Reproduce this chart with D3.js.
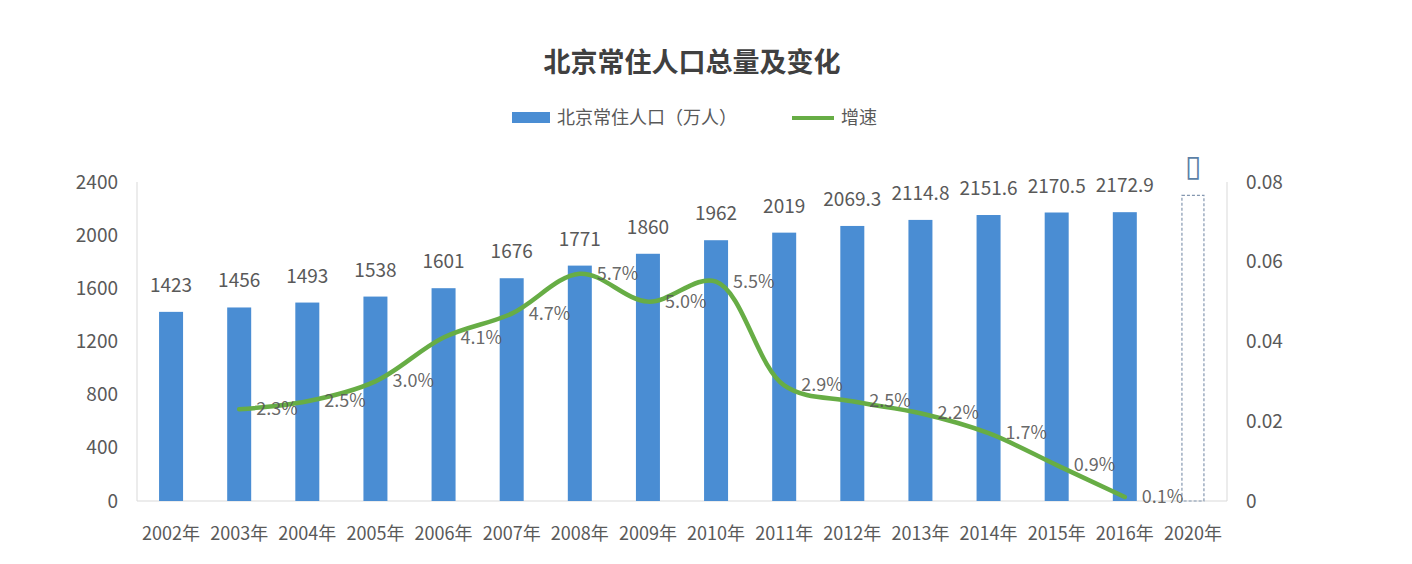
<!DOCTYPE html>
<html><head><meta charset="utf-8">
<script src="https://cdn.jsdelivr.net/npm/d3@7"></script>
<style>
html,body{margin:0;padding:0;background:#fff;}
svg{display:block;font-family:"Noto Sans CJK SC","Noto Sans",sans-serif;}
</style></head>
<body>
<svg id="c" width="1412" height="564"></svg>
<script>
const years = ["2002年","2003年","2004年","2005年","2006年","2007年","2008年","2009年","2010年","2011年","2012年","2013年","2014年","2015年","2016年","2020年"];
const population = [1423,1456,1493,1538,1601,1676,1771,1860,1962,2019,2069.3,2114.8,2151.6,2170.5,2172.9,null];
const popLabels = ["1423","1456","1493","1538","1601","1676","1771","1860","1962","2019","2069.3","2114.8","2151.6","2170.5","2172.9",null];
const targetYear = "2020年";
const targetValue = 2300;
const targetLabel = "▯";
const growthYears = ["2003年","2004年","2005年","2006年","2007年","2008年","2009年","2010年","2011年","2012年","2013年","2014年","2015年","2016年"];
const growth = [0.023,0.025,0.030,0.041,0.047,0.057,0.050,0.055,0.029,0.025,0.022,0.017,0.009,0.001];
const growthLabels = ["2.3%","2.5%","3.0%","4.1%","4.7%","5.7%","5.0%","5.5%","2.9%","2.5%","2.2%","1.7%","0.9%","0.1%"];
const leftTicks = [0,400,800,1200,1600,2000,2400];
const leftTickLabels = ["0","400","800","1200","1600","2000","2400"];
const rightTicks = [0,0.02,0.04,0.06,0.08];
const rightTickLabels = ["0","0.02","0.04","0.06","0.08"];

const svg = d3.select("#c");
const L = 137, R = 1227, T = 182, B = 501;
const x = d3.scaleBand().domain(years).range([L, R]);
const y = d3.scaleLinear().domain([0, 2400]).range([B, T]);
const y2 = d3.scaleLinear().domain([0, 0.08]).range([B, T]);
const barW = 24;
const textCol = "#595959";

// title
svg.append("text").attr("x", 692).attr("y", 72).attr("text-anchor", "middle")
  .attr("font-size", 27).attr("font-weight", "bold").attr("fill", "#404040")
  .text("北京常住人口总量及变化");

// legend
const lg = svg.append("g");
lg.append("rect").attr("x", 512).attr("y", 112).attr("width", 38).attr("height", 11).attr("fill", "#4a8dd3");
lg.append("text").attr("x", 557).attr("y", 124).attr("font-size", 18).attr("fill", textCol).text("北京常住人口（万人）");
lg.append("line").attr("x1", 792).attr("x2", 834).attr("y1", 118).attr("y2", 118).attr("stroke", "#67ad45").attr("stroke-width", 4);
lg.append("text").attr("x", 841).attr("y", 124).attr("font-size", 18).attr("fill", textCol).text("增速");

// axes lines
const axisCol = "#d9d9d9";
svg.append("line").attr("x1", L).attr("x2", R).attr("y1", B).attr("y2", B).attr("stroke", axisCol);
svg.append("line").attr("x1", L).attr("x2", L).attr("y1", T).attr("y2", B).attr("stroke", axisCol);
svg.append("line").attr("x1", R).attr("x2", R).attr("y1", T).attr("y2", B).attr("stroke", axisCol);

// left axis
const la = svg.append("g").attr("transform", `translate(${L},0)`)
  .call(d3.axisLeft(y).tickValues(leftTicks).tickSize(0).tickPadding(19).tickFormat((d,i) => leftTickLabels[i]));
la.select(".domain").remove();
la.selectAll("text").attr("font-size", 19).attr("fill", textCol).attr("font-family", "'Noto Sans CJK SC',sans-serif");

// right axis
const ra = svg.append("g").attr("transform", `translate(${R},0)`)
  .call(d3.axisRight(y2).tickValues(rightTicks).tickSize(0).tickPadding(19).tickFormat((d,i) => rightTickLabels[i]));
ra.select(".domain").remove();
ra.selectAll("text").attr("font-size", 19).attr("fill", textCol).attr("font-family", "'Noto Sans CJK SC',sans-serif");

// bottom axis
const ba = svg.append("g").attr("transform", `translate(0,${B})`)
  .call(d3.axisBottom(x).tickSize(0).tickPadding(26));
ba.select(".domain").remove();
ba.selectAll("text").attr("font-size", 18).attr("fill", textCol).attr("font-family", "'Noto Sans CJK SC',sans-serif");

// bars
const barData = years.map((yr, i) => ({yr, v: population[i], lab: popLabels[i]})).filter(d => d.v != null);
svg.append("g").selectAll("rect").data(barData).join("rect")
  .attr("x", d => x(d.yr) + x.bandwidth()/2 - barW/2)
  .attr("y", d => y(d.v))
  .attr("width", barW)
  .attr("height", d => B - y(d.v))
  .attr("fill", "#4a8dd3");

// target (dashed) bar
svg.append("rect")
  .attr("x", x(targetYear) + x.bandwidth()/2 - barW/2 + 1)
  .attr("y", y(targetValue))
  .attr("width", barW - 2)
  .attr("height", B - y(targetValue))
  .attr("fill", "none").attr("stroke", "#8497b0").attr("stroke-width", 1.2).attr("stroke-dasharray", "3,2");
svg.append("text")
  .attr("x", x(targetYear) + x.bandwidth()/2).attr("y", y(targetValue) - 19)
  .attr("text-anchor", "middle").attr("font-size", 30).attr("fill", "#5b7fa6")
  .attr("font-family", "'DejaVu Sans',sans-serif").text(targetLabel);

// bar labels
svg.append("g").selectAll("text").data(barData).join("text")
  .attr("x", d => x(d.yr) + x.bandwidth()/2)
  .attr("y", d => y(d.v) - 20)
  .attr("text-anchor", "middle").attr("font-size", 19).attr("fill", textCol)
  .text(d => d.lab);

// growth line
const gData = growthYears.map((yr, i) => ({yr, v: growth[i], lab: growthLabels[i]}));
const line = d3.line()
  .x(d => x(d.yr) + x.bandwidth()/2)
  .y(d => y2(d.v))
  .curve(d3.curveCatmullRom.alpha(0.5));
svg.append("path").datum(gData).attr("d", line)
  .attr("fill", "none").attr("stroke", "#67ad45").attr("stroke-width", 4.5)
  .attr("stroke-linejoin", "round").attr("stroke-linecap", "round");

// growth labels
svg.append("g").selectAll("text").data(gData).join("text")
  .attr("x", d => x(d.yr) + x.bandwidth()/2 + 17)
  .attr("y", d => y2(d.v) + 6)
  .attr("font-size", 18).attr("fill", "#555").attr("fill-opacity", 0.9)
  .text(d => d.lab);
</script>
</body></html>
